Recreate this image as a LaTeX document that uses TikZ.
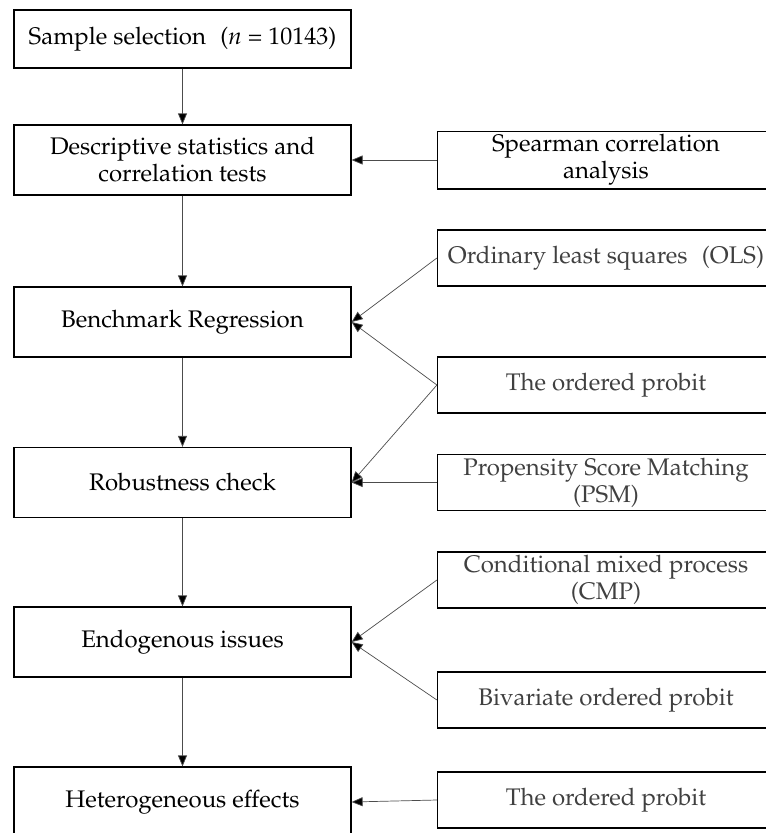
\documentclass[tikz,border=0pt]{standalone}
\usepackage[T1]{fontenc}
\usepackage{mathpazo}
\usetikzlibrary{arrows.meta}

\tikzset{
    stage/.style={rectangle, draw, line width=1.2pt, minimum width=337pt, minimum height=70pt,
        inner xsep=2pt, align=center, font=\fontsize{24}{27}\selectfont},
    method/.style={stage, minimum height=56pt},
    flow/.style={draw=black!70, line width=0.7pt, -{Triangle[length=11pt, width=9pt, fill=black]}},
}

\begin{document}
\begin{tikzpicture}[x=1pt, y=-1pt]
            \useasboundingbox (0,0) rectangle (766,833);
            % Main stages
            \node[stage, minimum height=58pt] (sample) at (182.5,39) {Sample selection\hspace{0.6em}(\textit{n} = 10143)};
            \node[stage] (descr) at (182.5,160) {Descriptive statistics and\\correlation tests};
            \node[stage] (bench) at (182.5,322) {Benchmark Regression};
            \node[stage] (robust) at (182.5,482.5) {Robustness check};
            \node[stage] (endog) at (182.5,642) {Endogenous issues};
            \node[stage] (hetero) at (182.5,802) {Heterogeneous effects};
            % Methods
            \node[method] (spearman) at (606,160) {Spearman correlation\\analysis};
            \node[method, text=black!75] (ols) at (606,258) {Ordinary least squares\hspace{0.6em}(OLS)};
            \node[method, text=black!75] (oprobit) at (606,385) {The ordered probit};
            \node[method, text=black!75] (psm) at (606,482.5) {Propensity Score Matching\\(PSM)};
            \node[method, text=black!75] (cmp) at (606,580) {Conditional mixed process\\(CMP)};
            \node[method, text=black!75] (biprobit) at (606,700) {Bivariate ordered probit};
            \node[method, text=black!75] (oprobit2) at (606,800) {The ordered probit};
            % Main flow
            \draw[flow] (sample) -- (descr);
            \draw[flow] (descr) -- (bench);
            \draw[flow] (bench) -- (robust);
            \draw[flow] (robust) -- (endog);
            \draw[flow] (endog) -- (hetero);
            % Methods to stages
            \draw[flow] (spearman.west) -- (descr.east);
            \draw[flow] (ols.west) -- (bench.east);
            \draw[flow] (oprobit.west) -- (bench.east);
            \draw[flow] (oprobit.west) -- (robust.east);
            \draw[flow] (psm.west) -- (robust.east);
            \draw[flow] (cmp.west) -- (endog.east);
            \draw[flow] (biprobit.west) -- (endog.east);
            \draw[flow] (oprobit2.west) -- (hetero.east);
        \end{tikzpicture}
\end{document}
